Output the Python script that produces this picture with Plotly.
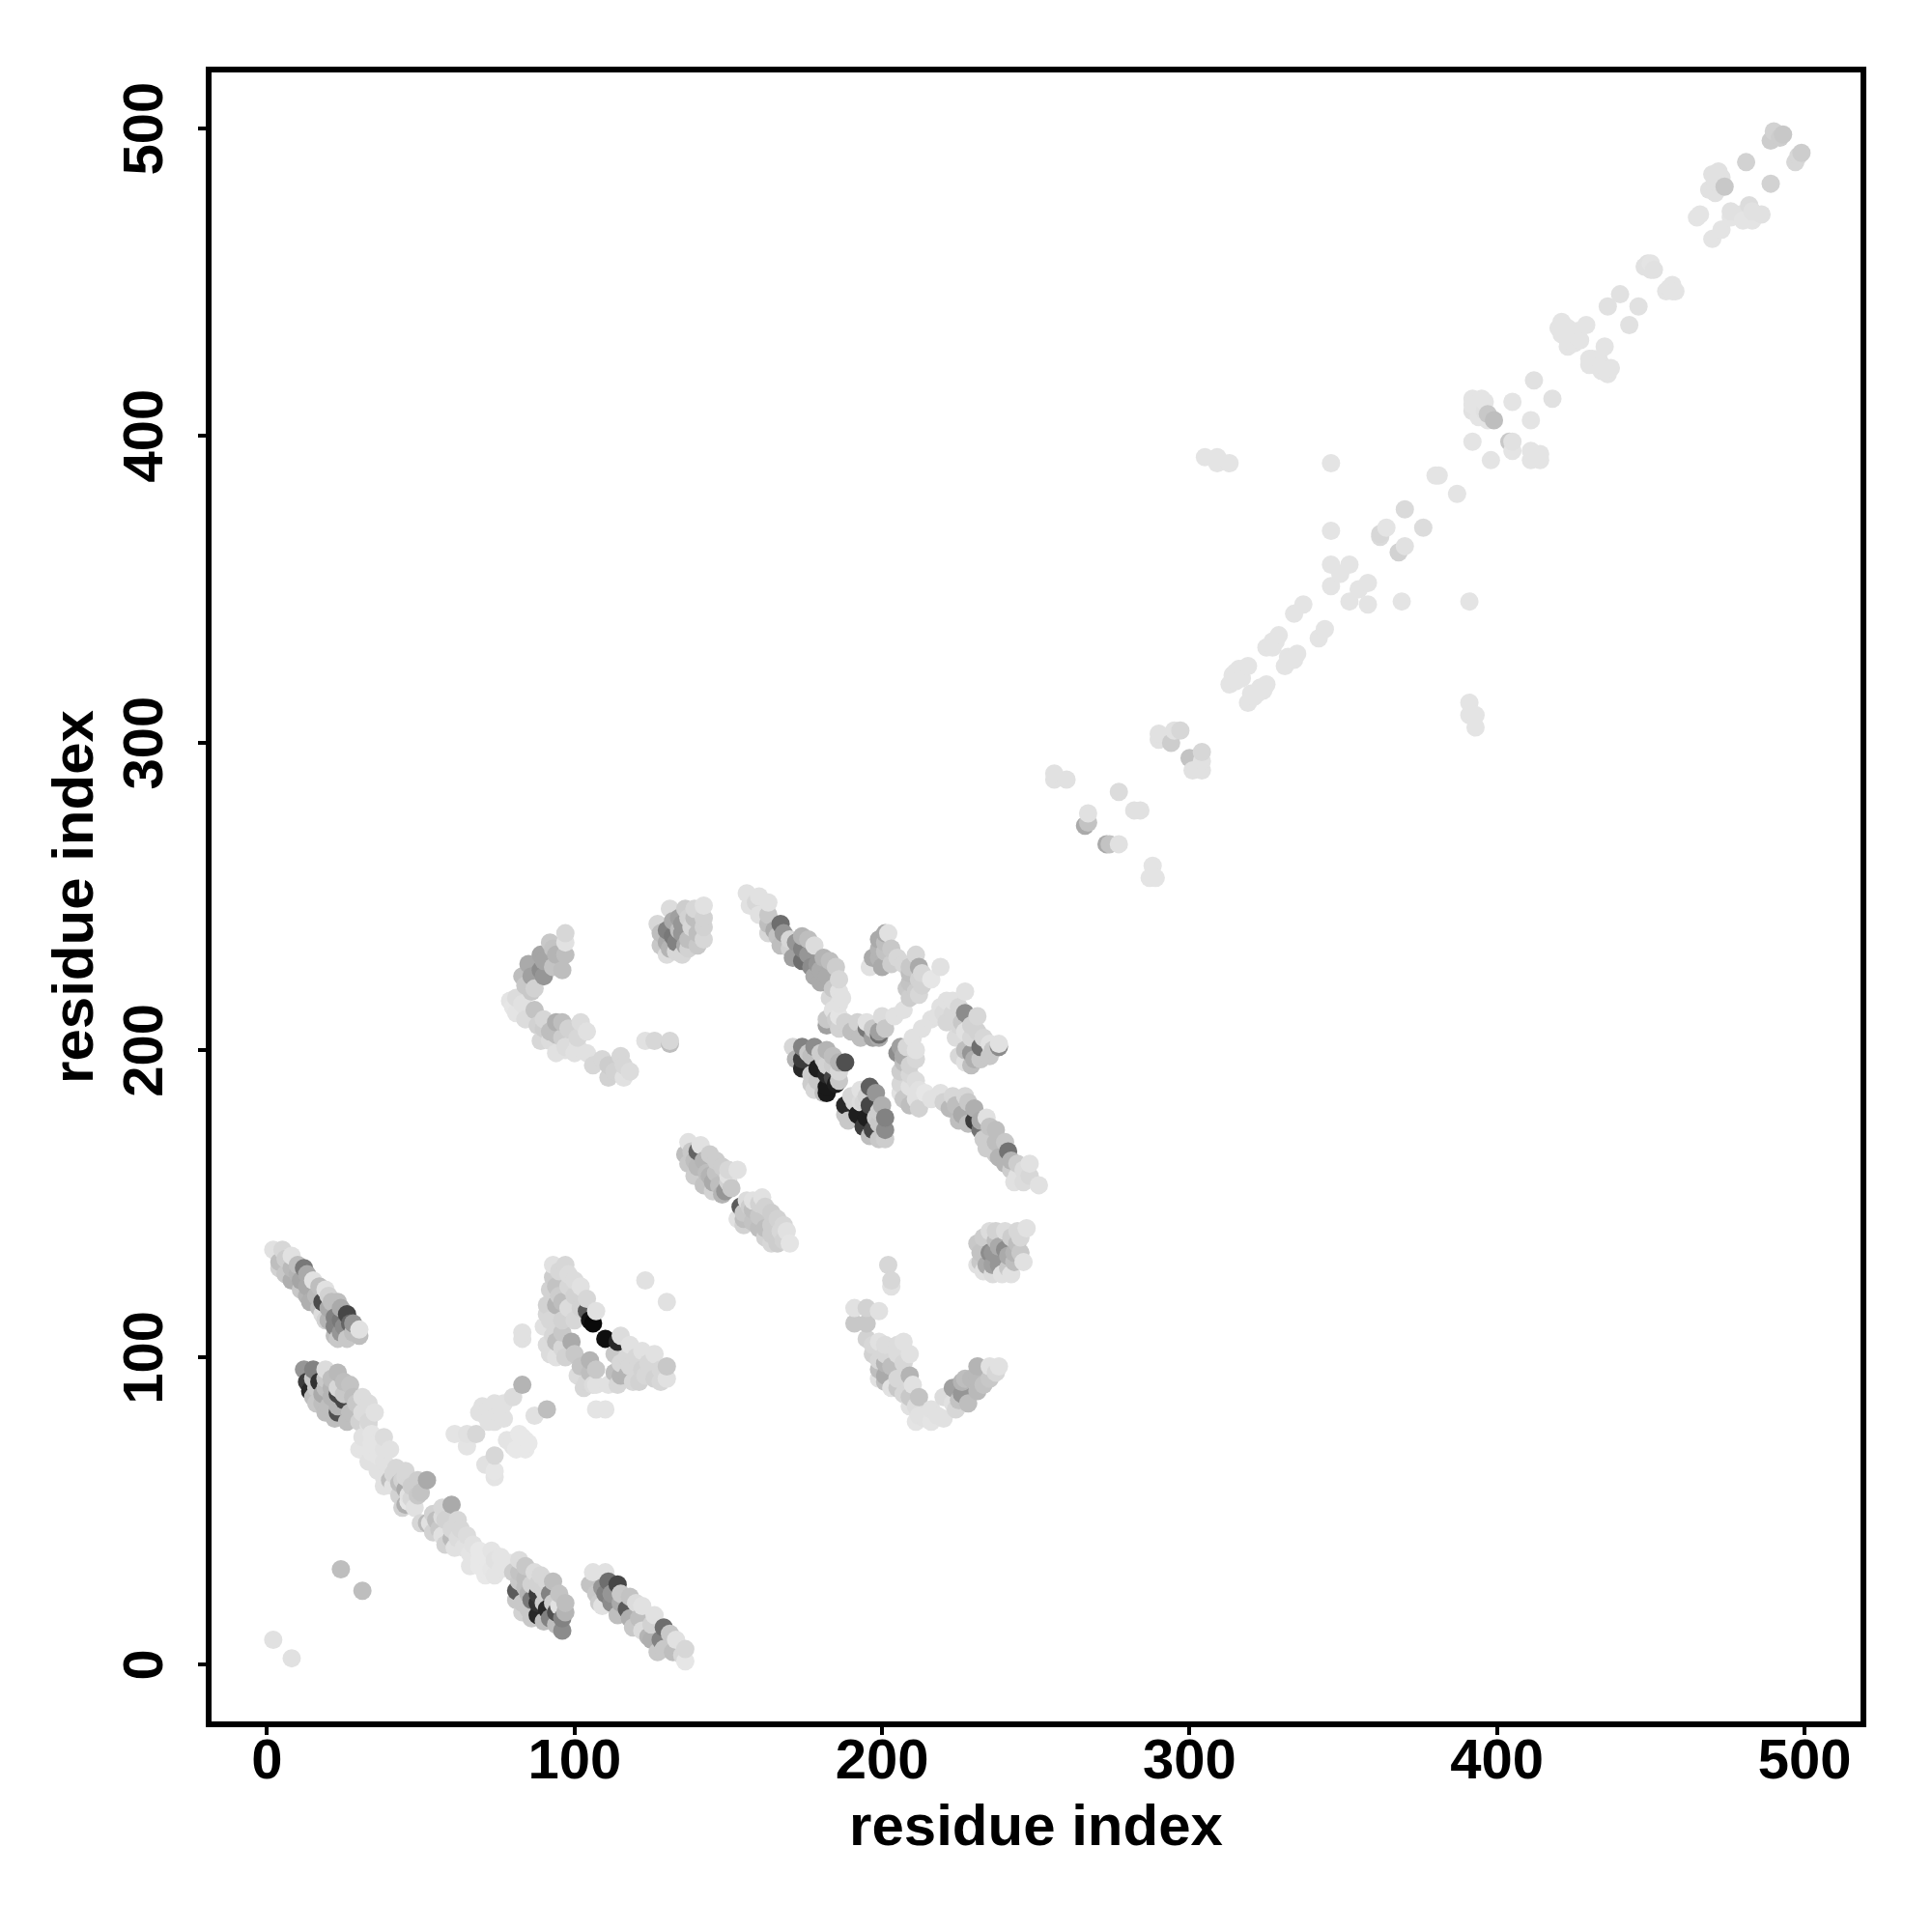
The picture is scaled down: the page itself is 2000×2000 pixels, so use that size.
import plotly.graph_objects as go

# Each contact: residue i, residue j, shade score (0 = black, 255 = white)
strand_a = [(2,135,225),(5,135,215),(4,131,190),(4,129,210),(8,129,185),(8,133,225),(12,129,120),(8,125,175),(11,125,165),(15,125,225),(11,122,200),(19,122,225),(14,118,175),(18,118,75),(23,118,190),(18,114,220),(22,113,130),(26,114,70),(22,110,130),(27,111,100),(23,106,200),(26,106,200),(30,107,190),(30,109,225),
 (6,132,205),(10,130,190),(6,127,200),(10,127,180),(13,127,170),(13,123,170),(17,123,190),(16,120,185),(13,120,180),(20,120,210),(17,116,190),(20,116,170),(24,116,170),(21,118,190),(20,112,180),(24,112,120),(24,108,150),(28,108,190),(25,110,140),(28,111,150),(19,112,210),(22,107,190)]
strand_b = [(12,96,150),(15,96,130),(13,92,60),(17,92,50),(14,89,40),(19,96,220),(18,88,170),(23,95,185),(23,88,70),(23,90,215),(27,91,195),(16,85,200),(20,84,190),(23,82,80),(23,84,180),(27,82,190),(31,87,220),(31,82,220),(35,82,225),
 (15,93,200),(19,93,200),(21,93,190),(16,90,200),(19,90,190),(21,90,180),(25,92,190),(15,87,190),(18,85,190),(21,87,180),(25,86,70),(25,88,200),(28,87,190),(22,80,190),(26,79,190),(29,85,200),(30,79,210),(33,79,215),(33,85,220),(19,82,190)]
diag_low = [(31,74,225),(31,71,228),(34,75,228),(38,74,220),(34,69,228),(38,70,225),(34,72,228),(38,66,225),(38,61,225),(42,64,215),(45,63,215),(40,60,190),(41,58,225),(45,61,215),(45,57,170),(49,60,205),(52,60,170),(50,56,195),(45,52,175),(46,55,225),(46,53,230),
 (52,46,185),(53,46,225),(57,51,215),(60,52,170),(57,48,220),(56,44,200),(60,41,185),(60,44,215),(63,44,215),(65,42,220),(57,42,225),(61,38,225),(64,38,225),(69,37,232),(73,37,228),(69,34,232),(74,34,225),(69,32,232),(73,31,230),(82,34,220),
 (33,78,225),(30,70,228),(33,66,225),(36,72,228),(36,68,228),(40,70,225),(36,63,225),(41,62,215),(38,58,225),(43,59,190),(43,55,210),(47,58,205),(44,60,210),(47,54,215),(49,55,200),(44,51,210),(48,51,225),(50,46,215),(54,49,210),(54,43,210),(58,47,210),(55,47,190),(62,47,215),(62,41,220),(58,39,210),(66,36,228),(66,32,228),(71,35,232),(71,31,232),(76,35,228),(79,33,228),(67,39,225),(76,31,228),(71,29,232),(74,29,228)]
strand_c = [(82,30,195),(82,27,200),(81,24,90),(83,20,200),(85,18,200),(87,30,220),(88,23,60),(88,20,50),(88,16,40),(91,18,40),(91,27,215),(92,23,130),(88,26,210),(85,23,180),(92,15,130),(96,11,140),(96,15,130),(95,23,195),(95,19,225),
 (80,30,205),(84,32,200),(84,28,190),(84,25,190),(81,21,200),(83,17,210),(86,26,210),(86,21,120),(90,24,210),(90,20,205),(89,29,215),(93,27,190),(93,20,205),(86,15,200),(90,14,190),(94,17,80),(94,13,190),(97,20,190),(97,17,180)]
strand_d = [(107,23,200),(106,30,225),(111,27,110),(110,30,225),(114,26,70),(110,23,130),(115,23,200),(118,22,195),(109,19,225),(117,18,90),(122,19,225),(118,15,175),(126,16,225),(125,8,175),(122,11,220),(129,12,110),(128,8,130),(129,5,200),(133,8,225),(132,4,190),(136,1,230),(136,5,215),
 (105,26,195),(109,25,150),(112,23,150),(108,20,205),(112,20,140),(115,20,170),(120,20,220),(114,16,190),(119,12,200),(125,13,210),(121,15,190),(124,9,180),(127,4,200),(131,10,200),(135,3,215)]
isolated_low = [(24,31,190),(31,24,190),(2,8,225),(8,2,225),(123,125,225),(130,118,225)]
parallel_low = [(83,91,180),(80,87,220),(70,84,225),(75,82,225),(71,81,225),(76,83,225),(74,79,225),(61,75,228),(65,71,228),(65,75,225),(68,75,215),(91,83,190),(87,81,225),(82,75,232),(80,73,228),(84,70,232),(80,71,228),(84,73,232),(71,65,225),(74,61,228),(74,63,230),(74,68,215),
 (72,83,225),(74,85,225),(77,80,225),(69,82,225),(72,79,225),(77,85,225),(83,74,232),(81,70,232),(85,72,232),(78,73,228)]
cross_100 = [(93,130,225),(97,130,215),(93,126,205),(98,127,220),(94,123,195),(102,123,225),(98,123,215),(104,119,215),(94,117,180),(91,117,210),(98,116,220),(91,114,215),(104,115,90),(105,112,20),(106,111,10),(107,115,225),(90,110,225),(83,108,225),(83,106,225),
 (110,106,15),(114,105,40),(115,107,220),(115,94,180),(114,91,215),(118,104,225),(122,102,225),(115,98,215),(118,97,215),(122,96,210),(123,94,215),(119,92,215),(126,93,210),(126,101,225),(130,93,225),(130,97,200),(111,91,225),
 (91,104,220),(94,105,190),(96,103,215),(94,100,225),(99,105,170),(105,99,180),(105,95,190),(101,94,220),(104,92,215),(106,91,220),(107,91,225),(107,83,228),(110,83,228),
 (95,128,215),(92,122,210),(95,120,205),(100,125,220),(96,118,190),(100,120,210),(92,112,215),(96,112,210),(100,112,215),(102,116,210),(93,107,215),(96,108,200),(92,101,220),(97,100,210),(100,101,200),(117,100,215),(120,100,215),(113,95,190),(117,94,180),(121,92,210),(124,98,215),(128,96,215),(128,92,215),(113,101,200),(102,97,195),(107,96,200),(103,90,215)]
arc_upper = [(92,235,200),(97,238,215),(89,231,165),(94,231,180),(97,231,190),(97,235,225),(85,228,170),(89,226,140),(93,227,195),(83,224,190),(86,224,160),(90,224,150),(87,220,210),(81,217,220),(80,214,230),(81,212,228),(87,213,195),(94,209,175),(90,210,215),(94,205,190),(90,207,205),(98,207,210),(89,203,215),(101,204,215),(102,209,220),(104,206,225),(94,199,225),(100,199,225),(97,200,225),(104,199,225),(106,195,215),(111,195,205),(115,198,215),(116,195,215),(111,191,210),(116,191,225),(123,203,225),(131,202,190),(126,203,215),(131,203,215),
 (90,229,165),(84,221,200),(83,215,225),(79,216,228),(84,210,220),(88,208,210),(92,206,190),(96,209,190),(96,204,205),(100,206,210),(92,203,220),(97,201,220),(101,201,225),(93,233,195),(96,226,190),(86,219,200),(109,197,215),(113,193,210),(118,193,220)]
block_240 = [(131,246,220),(142,247,225),(127,241,215),(134,243,160),(137,243,210),(142,243,210),(130,239,130),(134,239,190),(138,240,215),(142,240,210),(130,235,170),(133,235,130),(137,236,190),(142,236,215),(130,231,220),(133,232,215),(137,233,210),
 (128,238,190),(132,242,170),(136,246,205),(139,246,215),(135,241,150),(139,243,190),(128,234,200),(132,237,120),(135,238,150),(140,238,190),(136,234,170),(131,233,180),(140,234,200),(135,231,215)]
chain_upper = [(156,251,225),(157,247,225),(159,248,215),(160,244,225),(163,248,225),(163,241,190),(167,241,110),(163,238,215),(166,237,195),(170,236,215),(170,233,210),(174,233,130),(174,229,110),(174,237,180),(178,234,220),(177,227,140),(180,226,170),(181,230,180),(180,222,170),(185,227,205),(186,223,215),(186,219,225),(186,215,225),(186,211,228),
 (160,250,225),(163,244,200),(165,239,170),(168,238,150),(167,234,190),(171,230,160),(172,235,150),(176,231,150),(176,236,190),(179,228,150),(182,224,170),(183,229,190),(178,224,170),(184,220,200),(183,217,215),(187,217,225),(184,213,225)]
loop_200 = [(182,210,200),(182,208,160),(188,209,210),(192,209,210),(195,207,120),(195,209,225),(199,205,110),(199,206,160),(200,211,220),(204,211,225),(207,213,225),
 (201,238,170),(202,238,225),(201,235,190),(201,232,195),(197,230,170),(200,227,170),(196,227,225),(205,230,215),(211,231,215),(212,227,170),(209,225,190),(212,223,210),(211,219,205),(212,218,215),(219,227,225),(216,223,230),
 (185,210,205),(190,206,190),(186,207,210),(193,204,190),(197,204,160),(197,207,200),(201,207,200),(199,204,170),(199,236,170),(199,233,180),(203,233,200),(199,230,180),(203,228,205),(207,228,215),(209,227,200),(209,222,195),(213,225,215),(208,220,200),(213,221,210),(209,217,205)]
dark_top = [(171,201,215),(174,201,130),(178,201,140),(182,200,180),(174,197,60),(177,198,190),(174,194,40),(179,194,30),(179,190,200),(178,187,215),(182,192,40),(182,188,25),(182,186,25),(185,189,30),(182,195,210),(186,196,180),(188,196,80),(186,193,215),
 (176,199,200),(180,199,205),(184,198,190),(172,197,180),(181,197,205),(184,195,205),(177,192,205),(184,191,70),(177,189,205),(181,186,190),(186,190,200)]
dark_bot = [(196,188,95),(193,187,225),(188,182,40),(193,183,220),(188,179,200),(192,179,30),(195,178,30),(196,182,70),(194,175,60),(197,174,70),(200,182,175),(201,178,130),(201,174,140),(201,171,205),
 (190,185,215),(195,185,210),(191,183,215),(198,186,150),(194,183,215),(198,178,205),(189,177,200),(199,180,205),(199,176,200),(196,172,190),(199,171,200)]
arm_right = [(205,199,140),(207,196,190),(208,201,215),(211,200,225),(209,195,210),(209,192,215),(209,182,190),(209,188,225),(211,184,225),(214,186,230),(219,186,225),(222,181,185),(223,185,215),(226,179,170),(227,185,215),(230,181,175),(230,177,60),(232,174,115),(234,178,225),(233,171,205),(237,174,190),(237,166,205),(241,167,115),(240,163,180),(244,163,205),(248,163,225),(244,159,225),(248,159,215),(251,156,225),
 (213,207,225),(210,204,225),(227,219,225),(223,216,225),(219,214,225),(218,211,225),(223,212,215),(226,209,200),(227,212,140),(231,211,215),(227,206,225),(231,206,210),(227,200,190),(230,197,175),(227,196,225),(232,201,110),(238,201,140),(235,202,225),(238,202,225),
 (206,201,160),(207,198,170),(211,197,215),(206,193,205),(211,190,220),(206,189,215),(207,184,200),(206,186,225),(212,181,210),(212,187,225),(216,184,225),(220,183,210),(224,182,190),(225,177,190),(228,183,200),(228,176,190),(232,177,170),(235,175,195),(234,168,205),(237,170,190),(240,170,200),(238,165,180),(242,164,180),(242,161,205),(246,161,220),(243,157,225),(246,157,220),
 (216,210,225),(220,212,220),(221,216,225),(225,214,215),(221,209,215),(225,208,215),(229,208,210),(224,204,220),(229,204,215),(233,204,215),(229,199,150),(235,198,200),(232,197,200),(225,198,215),(229,195,190),(236,200,200)]
strand_j = [(137,170,225),(141,169,225),(136,166,190),(140,167,100),(144,166,205),(137,163,200),(140,162,185),(144,159,180),(148,162,205),(149,154,150),(145,154,210),(150,157,210),(150,159,225),(153,161,225),
 (139,164,190),(142,164,180),(146,164,205),(146,160,195),(150,161,215),(142,156,195),(147,156,190),(151,155,200),(143,160,190),(139,159,205),(138,167,200),(145,157,170),(148,153,180)]
strand_k = [(154,149,90),(153,145,225),(158,151,225),(161,152,225),(157,149,205),(162,149,210),(158,144,195),(162,142,190),(166,145,210),(162,139,210),(166,137,205),(169,141,225),(170,137,228),
 (155,147,200),(155,143,210),(158,148,190),(160,146,200),(164,147,205),(160,150,210),(164,143,205),(160,142,190),(168,143,215),(164,140,205),(168,138,210),(164,137,215),(167,141,215),(156,151,220),(155,145,190)]
arc_lower = [(202,130,215),(203,125,215),(203,123,225),(191,116,225),(195,116,210),(199,115,225),(191,111,200),(195,111,200),(195,106,210),(199,105,225),(201,98,180),(201,94,170),(199,99,215),(199,93,225),(207,105,225),(209,101,225),(203,90,225),(209,94,180),(210,91,225),(209,87,200),(212,87,195),(212,81,225),(214,80,225),(218,81,225),(220,87,220),(223,90,160),(226,88,150),(223,85,225),(228,85,190),(227,93,190),(231,89,185),(231,97,180),(235,93,200),(235,97,225),(238,97,225),
 (197,104,215),(201,104,220),(205,104,220),(197,101,210),(201,101,215),(205,101,220),(199,96,190),(203,97,190),(207,98,215),(201,92,190),(205,93,215),(205,90,200),(207,88,215),(209,84,225),(211,84,220),(216,83,225),(216,79,228),(220,80,225),(224,83,215),(226,92,180),(229,93,185),(233,91,195),(225,86,195),(231,94,185),(237,95,215),(211,79,228)]
block_135 = [(231,137,200),(235,141,220),(240,141,220),(244,141,215),(247,142,225),(235,134,140),(240,135,140),(244,137,190),(243,134,180),(234,130,170),(238,130,150),(243,131,190),(231,130,225),(246,131,225),(239,127,225),(242,127,225),
 (233,139,205),(237,138,190),(242,139,205),(245,139,215),(237,141,210),(236,134,150),(238,136,170),(232,134,195),(232,131,200),(236,130,160),(241,133,170),(241,129,200),(236,127,220),(245,134,200),(233,128,225)]
mid_diag = [(256,290,225),(256,288,225),(260,288,225),(267,277,225),(266,273,170),(267,274,195),(273,267,170),(274,267,195),(277,267,225),(277,284,220),(284,278,225),(282,278,225),(288,260,228),(289,256,228),(287,256,228),
 (290,303,225),(290,301,225),(294,300,205),(295,304,225),(297,304,215),(300,295,195),(301,291,225),(304,291,225),(304,294,225),(304,297,215),
 (305,393,228),(309,393,228),(309,391,228),(313,391,228),(346,391,228),(392,398,228),(398,392,228),(380,387,228),(381,387,228),(387,381,228),(370,376,218),(376,370,220),(362,368,215),(362,367,218),(364,370,228),(346,369,228),(368,362,210),(370,364,225),
 (346,358,228),(352,358,228),(349,355,228),(346,351,228),(358,352,228),(355,350,228),(352,346,228),(358,345,228),(369,346,228),(391,346,228),(337,345,228),(334,342,228),(344,337,228),(342,334,228),
 (329,335,228),(327,333,228),(325,331,228),(335,329,228),(333,327,228),(331,325,228),(319,325,228),(317,324,228),(315,323,228),(313,319,228),(325,319,228),(323,318,228),(322,316,228),(319,313,228),
 (391,313,228),(391,309,228),(393,309,228),(393,305,228),
 (317,321,228),(315,320,228),(316,324,228),(314,322,228),(323,317,228),(321,315,228),(324,317,228),(320,316,228),(327,331,228),(328,333,228),(332,328,228),(334,327,228)]
top_diag = [(490,499,210),(493,498,200),(498,491,215),(499,492,205),(481,489,210),(489,482,210),(472,486,225),(471,483,225),(471,479,225),(474,481,200),(466,472,228),(465,471,228),(473,467,228),(470,464,228),(479,472,225),(482,475,220),(483,470,228),(486,472,225),
 (448,455,225),(449,456,225),(450,456,228),(456,448,228),(457,449,228),(440,446,225),(436,442,225),(446,442,225),(443,436,225),
 (421,437,228),(421,433,228),(423,429,228),(425,433,228),(429,436,228),(425,430,228),(435,429,228),(430,423,228),(431,425,228),(434,421,228),(437,422,228),(412,418,225),(418,412,225),
 (392,412,228),(395,412,228),(392,410,228),(394,406,228),(397,405,228),(399,405,190),(405,411,228),(411,405,228),(404,398,200),(405,398,225),(405,395,228),(411,395,228),(414,394,228),(411,392,228),(414,392,228),
 (420,435,228),(423,435,228),(423,431,228),(426,434,228),(427,431,228),(430,425,228),(432,423,228),(433,425,228),(434,423,228),(436,420,228),(392,408,225),(396,408,225),(396,411,228),(397,407,200),(470,485,225),(472,482,225),(473,484,225),(469,480,225),(476,471,228),(480,470,228),(483,473,225),(476,473,225),(450,454,225),(451,454,225),(457,447,228),(455,447,228),(458,447,228),(492,497,205),(497,489,215),(489,496,205)]

groups = [strand_a, strand_b, diag_low, strand_c, strand_d, isolated_low, parallel_low, cross_100,
          arc_upper, block_240, chain_upper, loop_200, dark_top, dark_bot, arm_right, strand_j,
          strand_k, arc_lower, block_135, mid_diag, top_diag]
# The original draws contacts column by column, low j first
contacts = sorted((p for g in groups for p in g), key=lambda p: (p[0], p[1]))
res_i = [p[0] for p in contacts]
res_j = [p[1] for p in contacts]
shade = [p[2] for p in contacts]

tick_vals = [0, 100, 200, 300, 400, 500]
axis_label = "residue index"
font = "Liberation Sans, Arial, sans-serif"

fig = go.Figure(go.Scatter(
    x=res_i, y=res_j, mode="markers",
    marker=dict(size=19, color=shade, cmin=0, cmax=255,
                colorscale=[[0, "rgb(0,0,0)"], [1, "rgb(255,255,255)"]],
                line=dict(width=0), showscale=False),
    showlegend=False, hoverinfo="skip"))

axis_common = dict(
    tickvals=tick_vals, ticks="outside", ticklen=8, tickwidth=4, tickcolor="black",
    showgrid=False, zeroline=False, showline=True, linecolor="black", linewidth=6,
    mirror=True, tickfont=dict(family=font, size=58, color="black", weight="bold"),
    title_font=dict(family=font, size=60, color="black", weight="bold"))

fig.update_xaxes(range=[-18.06, 518.2], title_text=axis_label, title_standoff=18,
                 ticklabelstandoff=-25, **axis_common)
fig.update_yaxes(range=[-18.55, 518.2], title_text=axis_label, title_standoff=1,
                 tickangle=-90, ticklabelstandoff=14, ticklabelshift=9, **axis_common)
fig.update_layout(width=2000, height=2000, autosize=False, paper_bgcolor="white", plot_bgcolor="white",
                  margin=dict(l=219, r=74, t=75, b=218, autoexpand=False))
fig.write_html("out.html", post_script="document.body.style.margin='0';",
               config={"displayModeBar": False})
